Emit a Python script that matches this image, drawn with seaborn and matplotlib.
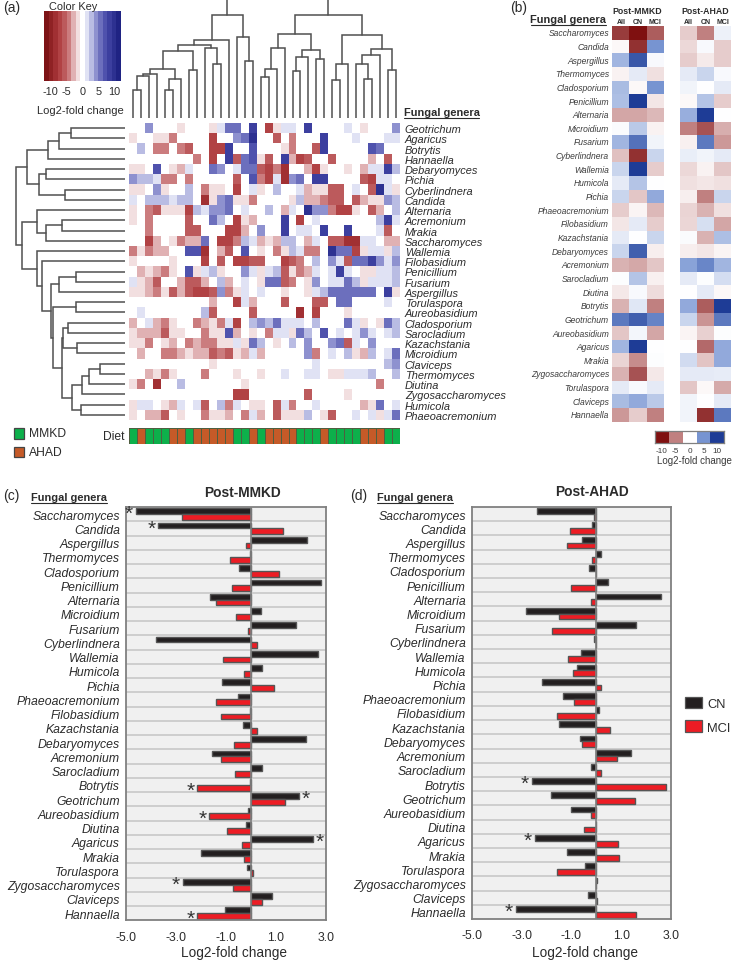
import pandas as pd
import matplotlib
matplotlib.use("Agg")
import matplotlib.pyplot as plt
import seaborn as sns
from matplotlib.colors import LinearSegmentedColormap, ListedColormap
from matplotlib.lines import Line2D
from matplotlib.patches import Patch, Rectangle

W, H = 734, 962

# panel (a) heat map, rows in dendrogram order
genera_a = ["Geotrichum", "Agaricus", "Botrytis", "Hannaella", "Debaryomyces", "Pichia",
            "Cyberlindnera", "Candida", "Alternaria", "Acremonium", "Mrakia", "Saccharomyces",
            "Wallemia", "Filobasidium", "Penicillium", "Fusarium", "Aspergillus", "Torulaspora",
            "Aureobasidium", "Cladosporium", "Sarocladium", "Kazachstania", "Microidium",
            "Claviceps", "Thermomyces", "Diutina", "Zygosaccharomyces", "Humicola", "Phaeoacremonium"]

heat_a = [
    [0,0,4,0,0,0,-2,0,0,0, -2,2,6,6,0,8,0,-7,-2,2, 2,0,8,0,0,0,0,2,0,-2, 0,0,0,4],
    [-2,0,0,-2,-2,-4,0,0,0,0, -7,0,0,4,6,10,0,0,-5,0, -4,0,0,0,8,0,0,0,2,0, 0,0,2,2],
    [0,3,0,-4,-4,0,-4,-6,0,0, -7,-7,8,0,0,7,0,0,0,-2, -4,0,0,-6,8,0,0,0,0,0, 7,5,0,0],
    [0,0,0,0,0,0,0,0,-4,0, -7,0,8,-5,6,7,-2,-6,0,8, -3,-7,-5,0,0,-5,0,0,0,0, -3,0,-6,0],
    [-2,-2,0,7,0,-2,-3,2,0,0, 5,4,0,2,6,6,-5,-7,-4,-9, 0,0,-3,-7,-2,0,0,-2,0,-3, 2,2,8,3],
    [4,3,3,2,-4,-4,0,-4,0,0, 0,0,0,-5,0,7,-4,-7,2,-9, 4,5,0,8,8,0,0,0,0,-5, -7,2,2,0],
    [-2,-2,0,4,-2,0,0,3,0,-4, -2,-2,0,-7,0,2,-2,0,3,0, 0,2,-3,-2,-2,-5,-5,0,2,0, -5,10,2,-2],
    [2,0,3,3,3,2,3,3,0,-9, -2,4,6,-2,-2,-4,0,0,0,0, -2,3,-3,-3,-4,-5,-5,0,-5,-3, -2,-2,4,3],
    [-2,0,-4,-6,-2,-2,-2,-7,3,2, 4,4,6,0,2,0,0,3,0,-3, 2,0,10,4,4,-4,-7,-7,-2,0, -6,-3,0,3],
    [-2,0,-4,0,0,0,0,-6,0,0, 6,3,0,-7,-2,-3,0,0,0,8, 0,-7,0,2,0,0,0,0,0,0, 0,3,8,2],
    [0,0,-4,0,0,0,0,-6,-6,0, 0,0,-7,-7,-3,0,4,0,0,8, 0,2,2,0,8,0,0,8,0,0, 0,2,-6,0],
    [0,0,-7,-3,0,-2,-4,-3,-3,5, 0,-7,-7,-4,3,2,-3,-2,-3,3, 3,0,-3,2,0,-6,-6,-9,-9,2, 2,0,-3,-3],
    [-4,-2,-4,-3,-3,0,0,7,7,-8, 0,-3,-6,0,7,0,-2,0,-4,-2, 3,2,-4,-4,0,10,5,6,-7,-2, 2,2,-2,3],
    [-2,0,0,0,0,-2,0,0,0,-7, 0,-6,0,-7,-7,-6,-6,0,0,-7, -5,-4,0,3,0,4,2,-5,6,6, 8,4,2,4],
    [0,-3,-2,-3,-4,-2,0,7,-2,2, 3,-2,0,0,4,2,-2,2,3,-6, -2,-4,-3,2,0,2,8,2,0,-2, -2,2,2,3],
    [2,-2,-3,-5,0,0,-3,-5,-5,-3, 0,3,-3,0,2,0,-2,6,6,-6, -4,0,-2,4,0,2,2,6,3,-2, 2,2,2,3],
    [-2,-2,-3,-4,-2,-5,-3,-5,-7,-7, -6,4,-4,-2,2,0,2,0,0,-2, 0,0,-2,2,3,6,5,5,5,5, 6,0,8,-2],
    [0,0,0,0,0,0,0,0,0,0, -3,0,0,-7,2,-3,0,0,0,-6, 0,0,0,-6,-6,0,6,6,0,0, 0,0,2,0],
    [0,2,0,0,0,0,0,0,0,3, -6,0,0,0,0,-6,0,0,0,0, 0,-8,0,-7,0,0,0,-2,0,0, 0,0,0,0],
    [-3,0,2,-3,-4,-2,0,0,-4,-3, -2,-4,2,-7,0,3,4,3,6,2, 2,2,0,3,0,0,0,6,2,-2, 0,-2,6,3],
    [-2,-3,-3,-3,-6,-2,-2,0,0,-4, -2,-2,7,-3,0,-2,0,-4,2,2, -2,6,3,0,7,0,2,0,2,4, 2,0,2,3],
    [-2,-2,-4,0,-2,-3,0,-4,-3,-4, -4,-2,-2,2,-2,6,3,0,-2,0, 3,0,4,0,0,4,6,-6,2,0, 4,0,0,0],
    [0,-3,0,0,-4,-4,-3,-2,-3,-3, -6,-4,-6,-2,-3,2,-3,0,0,0, 0,0,4,-4,0,2,0,3,-2,-3, 3,0,2,6],
    [0,0,0,0,0,0,0,0,0,0, -2,0,0,0,0,0,0,0,0,0, 0,0,0,2,0,0,0,0,0,0, 0,0,3,4],
    [0,0,-3,-2,-4,-2,0,0,0,-4, 0,0,0,-2,0,0,-2,0,0,2, 0,0,2,2,0,-2,-2,2,2,2, 3,0,0,3],
    [-2,-4,0,-8,0,0,3,0,0,0, 0,0,0,0,-2,0,0,0,0,0, 0,0,0,0,0,0,0,0,0,0, 0,-4,0,0],
    [0,0,0,0,0,0,0,0,0,0, 0,0,0,-7,-7,0,0,0,0,0, 0,0,-6,0,0,0,0,-2,0,0, 0,0,0,0],
    [-2,2,2,0,-2,-3,2,0,2,-5, 0,3,-4,2,0,-2,-2,0,-6,2, -4,0,0,2,0,0,0,0,0,-3, -2,6,0,2],
    [-2,0,-3,-3,-6,0,-2,0,0,-4, -2,-2,-3,0,-4,2,-3,0,-6,-2, -2,-2,3,0,-2,-6,0,0,2,0, 2,-2,2,6],
]

diet = ["MMKD","AHAD","MMKD","MMKD","MMKD","AHAD","AHAD","MMKD","AHAD","AHAD","AHAD","AHAD","AHAD",
        "MMKD","MMKD","AHAD","MMKD","AHAD","AHAD","AHAD","AHAD","MMKD","MMKD","MMKD","AHAD",
        "MMKD","MMKD","MMKD","MMKD","AHAD","AHAD","AHAD","MMKD","MMKD"]

# dendrograms as (height, left, right), leaves are column / row numbers
tree_top = (118.7,
    (103.3,
        (77.7,
            (72.7,
                (67,
                    (49.3,
                        (44, (42, (27.7, 0, 1), 2), 3),
                        (38.7, (27.7, 4, 5), 6)),
                    (47.7, 7, 8)),
                (70.3, 9, (54.3, 10, 11))),
            12),
        (81, 13, (57, 14, 15))),
    (103.3,
        (84.3,
            (70.3, (48.7, (41, 16, 17), 18), 19),
            (67.7, (61, (46.7, 20, 21), 22), (59.3, 23, 24))),
        (82.7,
            (54.3, (37.7, 25, 26), 27),
            (68.7, (62.7, (54.3, 28, (38.7, 29, 30)), 31), (47.7, 32, 33)))))

tree_left = (109.3,
    (98.3,
        (76.7, (65.7, (54, 0, 1), 2), 3),
        (85.7, (79.3, 4, 5), (59.7, 6, 7))),
    (103.3,
        (87.7, 8, (79.3, (63.3, 9, 10), 11)),
        (87.7, 12,
            (83.3, 13,
                (74.3,
                    (65.7, (49, 14, 15), 16),
                    (72.3,
                        (49, 17, 18),
                        (63.3,
                            (61.7, (56.7, 19, 20), (47.7, 21, 22)),
                            (53.3,
                                (43.3, (35.7, (25, 23, 24), 25), 26),
                                (44, 27, 28)))))))))

# panel (b)
genera_b = ["Saccharomyces", "Candida", "Aspergillus", "Thermomyces", "Cladosporium", "Penicillium",
            "Alternaria", "Microidium", "Fusarium", "Cyberlindnera", "Wallemia", "Humicola", "Pichia",
            "Phaeoacremonium", "Filobasidium", "Kazachstania", "Debaryomyces", "Acremonium",
            "Sarocladium", "Diutina", "Botrytis", "Geotrichum", "Aureobasidium", "Agaricus", "Mrakia",
            "Zygosaccharomyces", "Torulaspora", "Claviceps", "Hannaella"]
subgroups = ["All", "CN", "MCI"]
post_mmkd = [[-8,-10,-6.5],[-0.3,-8.5,5],[3.5,8.5,0.3],[-0.5,1,-1.2],[3.2,-0.3,5],[3,10,-1],
             [-3.5,-3.5,-2.8],[0.2,2.5,-0.5],[3.5,7,0.5],[-2.5,-8.5,2],[2,10,-2],[1,2.8,0],
             [2,-2.2,4],[-2,-0.4,-2.8],[-1,1,-2],[1,0,2],[2,8,-0.7],[-3,-3.4,-2.2],[0.1,2.8,-0.6],
             [-0.9,0.3,-1.4],[-3,1.1,-5],[6.5,8,6],[-2.2,0.4,-3.5],[3.5,10,0],[-1.7,-4.5,0.1],
             [-3,-7,-0.9],[1,0.3,1],[3.2,4,2.5],[-4,-2,-5]]
post_ahad = [[-2,-5,0.7],[-1.5,0.3,-2],[-2,-0.8,-2],[1,2,0.3],[0.5,0,1],[-0.3,2.8,-2],
             [3.8,10,0],[-5,-7,-3.2],[-0.6,6.5,-4],[0.8,0.5,1],[-1.5,-0.5,-2.2],[-1.2,-1,-1.2],
             [-0.7,-5,2],[-1.7,-3,-1.2],[-1.6,1.5,-3.5],[0.2,-3,3],[-0.7,-1,-0.4],[4.3,5.8,3.5],
             [1,0.1,1.6],[0,1,-0.3],[4,-6.5,10],[2,-4.2,6.5],[-0.4,-1.8,0.1],[0,-6,4],[1.7,-2.3,4],
             [1,1,0.9],[-2.2,-0.3,-3.3],[0.5,0,1],[0.5,-8.5,6.5]]
key_b = [-10, -5, 0, 5, 10]

# panels (c) and (d)
bar_order = ["Saccharomyces", "Candida", "Aspergillus", "Thermomyces", "Cladosporium", "Penicillium",
             "Alternaria", "Microidium", "Fusarium", "Cyberlindnera", "Wallemia", "Humicola", "Pichia",
             "Phaeoacremonium", "Filobasidium", "Kazachstania", "Debaryomyces", "Acremonium",
             "Sarocladium", "Botrytis", "Geotrichum", "Aureobasidium", "Diutina", "Agaricus", "Mrakia",
             "Torulaspora", "Zygosaccharomyces", "Claviceps", "Hannaella"]
mmkd_cn = [-4.6,-3.7,2.27,-0.03,-0.45,2.81,-1.63,0.4,1.8,-3.8,2.69,0.44,-1.15,-0.5,-0.02,-0.3,2.21,
           -1.53,0.44,-0.03,1.93,-0.1,-0.2,2.5,-2,-0.15,-2.72,0.85,-1.03]
mmkd_mci = [-2.76,1.28,-0.18,-0.83,1.12,-0.76,-1.4,-0.59,-0.1,0.24,-1.12,-0.25,0.93,-1.4,-1.2,0.27,-0.67,
            -1.17,-0.64,-2.13,1.39,-1.65,-0.93,-0.33,-0.25,0.11,-0.69,0.45,-2.13]
ahad_cn = [-2.39,-0.19,-0.59,0.19,-0.31,0.47,2.59,-2.84,1.6,-0.11,-0.61,-0.79,-2.19,-1.33,0.12,-1.52,-0.67,
           1.4,-0.21,-2.59,-1.81,-1.01,0,-2.47,-1.2,-0.47,0.04,-0.33,-3.24]
ahad_mci = [-0.1,-1.07,-1.17,-0.16,0,-1.03,-0.21,-1.49,-1.79,0,-1.15,-0.95,0.19,-0.89,-1.59,0.55,-0.57,
            0.81,0.19,2.8,1.55,-0.21,-0.51,0.87,0.92,-1.57,0,0.04,1.59]
stars_c = [("Saccharomyces", "CN"), ("Candida", "CN"), ("Botrytis", "MCI"), ("Geotrichum", "CN"),
           ("Aureobasidium", "MCI"), ("Agaricus", "CN"), ("Zygosaccharomyces", "CN"), ("Hannaella", "MCI")]
stars_d = [("Botrytis", "CN"), ("Agaricus", "CN"), ("Hannaella", "CN")]
bar_ticks = [-5, -3, -1, 1, 3]

sns.set_theme(style="white")
plt.rcParams["font.family"] = ["Liberation Sans", "DejaVu Sans"]
plt.rcParams["axes.unicode_minus"] = False
TXT = "#2b2b2b"
GREY = "#808080"

fig = plt.figure(figsize=(W / 100, H / 100), dpi=100)


def px_axes(x0, y0, x1, y1):
    return fig.add_axes([x0 / W, 1 - y1 / H, (x1 - x0) / W, (y1 - y0) / H])


def label(x, y, s, **kw):
    kw.setdefault("color", TXT)
    kw.setdefault("va", "center")
    return fig.text(x / W, 1 - y / H, s, **kw)


def heading(x0, x1, y, size):
    # matplotlib text has no underline, so the rule is drawn below it
    label((x0 + x1) / 2, y, "Fungal genera", fontsize=size, fontweight="bold", ha="center")
    fig.add_artist(Line2D([x0 / W, x1 / W], [1 - (y + 5.5) / H] * 2, color=TXT, lw=0.8))


def draw_tree(ax, node, horizontal=False):
    if not isinstance(node, tuple):
        return node + 0.5, 0
    h, a, b = node
    pa, ha = draw_tree(ax, a, horizontal)
    pb, hb = draw_tree(ax, b, horizontal)
    xs, ys = [pa, pa, pb, pb], [ha, h, h, hb]
    if horizontal:
        ax.plot(ys, xs, color="#505050", lw=1.1, solid_joinstyle="miter")
    else:
        ax.plot(xs, ys, color="#505050", lw=1.1, solid_joinstyle="miter")
    return (pa + pb) / 2, h


# ---- panel (a)
cmap_a = LinearSegmentedColormap.from_list(
    "key_a",
    [(0, "#7d1316"), (4 / 24, "#ad3a3c"), (7 / 24, "#c46a6c"), (10 / 24, "#eed4d6"), (0.5, "#ffffff"),
     (14 / 24, "#d6d8f0"), (17 / 24, "#8083c8"), (20 / 24, "#4548a8"), (1, "#1f2383")], N=17)

ax_top = px_axes(129.3, 0, 400, 119)
draw_tree(ax_top, tree_top)
ax_top.set_xlim(0, 34)
ax_top.set_ylim(0, 119)
ax_top.axis("off")

ax_left = px_axes(0, 124, 125, 421)
draw_tree(ax_left, tree_left, horizontal=True)
ax_left.set_xlim(125, 0)
ax_left.set_ylim(29, 0)
ax_left.axis("off")

ax_a = px_axes(129.3, 124, 400, 421)
ax_key = px_axes(44, 12, 121, 82)
sns.heatmap(pd.DataFrame(heat_a, index=genera_a), ax=ax_a, cmap=cmap_a, vmin=-12, vmax=12,
            xticklabels=False, yticklabels=genera_a, cbar_ax=ax_key,
            cbar_kws={"orientation": "horizontal", "ticks": [-10, -5, 0, 5, 10]})
ax_a.yaxis.tick_right()
ax_a.tick_params(axis="y", length=0, pad=3.5, labelsize=7.9, labelcolor=TXT, rotation=0)
for t in ax_a.get_yticklabels():
    t.set_fontstyle("italic")
ax_key.tick_params(axis="x", length=0, pad=3.5, labelsize=7.8, labelcolor=TXT)
ax_a.collections[0].colorbar.outline.set_edgecolor(GREY)
label(73.5, 7.5, "Color Key", fontsize=7.9, ha="center")
label(80, 110.5, "Log2-fold change", fontsize=8, ha="center")
heading(404, 479, 113, 7.9)

diet_codes = [[0 if d == "MMKD" else 1 for d in diet]]
ax_diet = px_axes(129.3, 429, 400, 444.7)
sns.heatmap(diet_codes, ax=ax_diet, cmap=ListedColormap(["#0db04b", "#c55a28"]), vmin=0, vmax=1, cbar=False,
            xticklabels=False, yticklabels=False, linewidths=0.5, linecolor="#4f5f40")
label(125, 437, "Diet", fontsize=8.7, ha="right")
for y0, name, col in [(429, "MMKD", "#0db04b"), (447.5, "AHAD", "#c55a28")]:
    fig.add_artist(Rectangle((14 / W, 1 - (y0 + 10.5) / H), 9.5 / W, 10.5 / H, transform=fig.transFigure,
                             facecolor=col, edgecolor="#444444", lw=0.9))
    label(29, y0 + 5.5, name, fontsize=8.7)

# ---- panel (b)
cmap_b = LinearSegmentedColormap.from_list("key_b", ["#7f1010", "#c07f80", "#ffffff", "#7895d2", "#1e3c96"])
ax_b1 = px_axes(612.3, 27, 663.7, 422.7)
ax_b2 = px_axes(680, 27, 731.3, 422.7)
sns.heatmap(pd.DataFrame(post_mmkd, index=genera_b, columns=subgroups), ax=ax_b1, cmap=cmap_b, vmin=-10, vmax=10,
            cbar=False, xticklabels=False, yticklabels=genera_b)
sns.heatmap(pd.DataFrame(post_ahad, index=genera_b, columns=subgroups), ax=ax_b2, cmap=cmap_b, vmin=-10, vmax=10,
            cbar=False, xticklabels=False, yticklabels=False)
ax_b1.tick_params(axis="y", length=0, pad=2.3, labelsize=6.15, labelcolor="#3a3a3a", rotation=0)
for t in ax_b1.get_yticklabels():
    t.set_fontstyle("italic")
for x0, x1, name in [(612.3, 663.7, "Post-MMKD"), (680, 731.3, "Post-AHAD")]:
    label((x0 + x1) / 2 - 0.5, 11, name, fontsize=6.3, fontweight="bold", ha="center")
    for i, s in enumerate(subgroups):
        label(x0 + (x1 - x0) * (i + 0.5) / 3, 22.3, s, fontsize=5, fontweight="bold", ha="center")
heading(530.7, 606, 20, 7.9)
label(510, 8, "(b)", fontsize=10)

ax_kb = px_axes(655, 431.7, 724.3, 444)
sns.heatmap([key_b], ax=ax_kb, cmap=cmap_b, vmin=-10, vmax=10, cbar=False, yticklabels=False, xticklabels=key_b)
ax_kb.tick_params(axis="x", length=0, pad=3, labelsize=5.9, labelcolor="#3a3a3a", rotation=0)
for s in ax_kb.spines.values():
    s.set_visible(True)
    s.set_edgecolor(GREY)
    s.set_linewidth(0.9)
label(694, 461.5, "Log2-fold change", fontsize=7, ha="center", color="#3a3a3a")


# ---- panels (c), (d)
def bar_panel(box, cn, mci, stars, title, title_x, title_y, xlabel_x):
    ax = px_axes(*box)
    df = pd.DataFrame({"genus": bar_order * 2, "value": cn + mci,
                       "group": ["CN"] * len(cn) + ["MCI"] * len(mci)})
    sns.barplot(data=df, x="value", y="genus", hue="group", order=bar_order, hue_order=["CN", "MCI"],
                palette={"CN": "#231f20", "MCI": "#ed1c24"}, width=0.82, edgecolor="#555555", linewidth=1.0,
                saturation=1, legend=False, errorbar=None, ax=ax, zorder=2)
    ax.set_facecolor("#f0f0f0")
    ax.set_xlim(-5, 3)
    ax.set_ylim(28.5, -0.5)
    for i in range(len(bar_order) - 1):
        ax.axhline(i + 0.5, color="#c8c8c8", lw=1.2, zorder=1)
    ax.axvline(0, color=GREY, lw=1.2, zorder=3)
    ax.set_xticks(bar_ticks)
    ax.set_xticklabels([f"{t:.1f}" for t in bar_ticks])
    ax.tick_params(axis="x", length=0, pad=7.5, labelsize=8.8, labelcolor=TXT)
    ax.tick_params(axis="y", length=0, pad=4.2, labelsize=8.85, labelcolor=TXT)
    for t in ax.get_yticklabels():
        t.set_fontstyle("italic")
    ax.set_xlabel("")
    ax.set_ylabel("")
    for s in ax.spines.values():
        s.set_visible(True)
        s.set_edgecolor(GREY)
        s.set_linewidth(1.3)
    values = dict(zip(zip(df["genus"], df["group"]), df["value"]))
    for genus, group in stars:
        v = values[(genus, group)]
        row = bar_order.index(genus) + (-0.2 if group == "CN" else 0.2)
        side = 1 if v > 0 else -1
        ax.annotate("*", (v, row), xytext=(side * 5, -1.8), textcoords="offset points", ha="center", va="center",
                    fontsize=15, color="#333333", annotation_clip=False)
    label(xlabel_x, 953, "Log2-fold change", fontsize=9.8, ha="center")
    label(title_x, title_y, title, fontsize=9.9, fontweight="bold", ha="center")
    return ax


bar_panel((125.7, 508, 325.7, 921.3), mmkd_cn, mmkd_mci, stars_c, "Post-MMKD", 242.5, 493, 234)
bar_panel((471.7, 508, 671.3, 920), ahad_cn, ahad_mci, stars_d, "Post-AHAD", 592, 492, 585)
heading(31, 107, 498, 7.9)
heading(377, 453, 498, 7.9)
label(3, 8, "(a)", fontsize=10)
label(3, 496, "(c)", fontsize=10)
label(350, 496, "(d)", fontsize=10)

handles = [Patch(facecolor="#231f20", edgecolor="#555555", lw=0.9),
           Patch(facecolor="#ed1c24", edgecolor="#555555", lw=0.9)]
fig.legend(handles, ["CN", "MCI"], loc="center left", bbox_to_anchor=(676 / W, 1 - 716 / H), frameon=False,
           fontsize=9.3, handlelength=1.3, handleheight=0.95, labelspacing=0.85, handletextpad=0.4,
           labelcolor=TXT, borderpad=0.2)

fig.savefig("out.png", dpi=100)
